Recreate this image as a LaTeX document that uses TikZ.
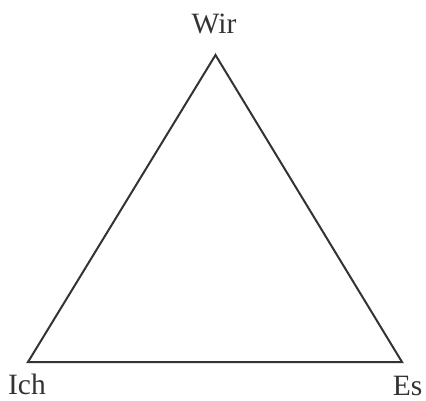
\documentclass[tikz,border=0pt]{standalone}
\usepackage{fontspec}
\setmainfont{Liberation Serif}
\begin{document}
\begin{tikzpicture}[x=1pt,y=-1pt,
  edge/.style={draw=black!80, line width=2pt, line join=miter},
  lbl/.style={inner sep=0pt, anchor=base, text=black!80, font=\fontsize{29.5}{31}\selectfont}]
\useasboundingbox (0,0) rectangle (426,401);
\coordinate (wir) at (215.5,55);
\coordinate (ich) at (28,362);
\coordinate (es) at (402,362);
\draw[edge] (wir) -- (ich) -- (es) -- cycle;
\node[lbl] (lwir) at (214,34) {Wir};
\node[lbl] (lich) at (27,394) {Ich};
\node[lbl] (les) at (407.5,395) {Es};
\end{tikzpicture}
\end{document}
